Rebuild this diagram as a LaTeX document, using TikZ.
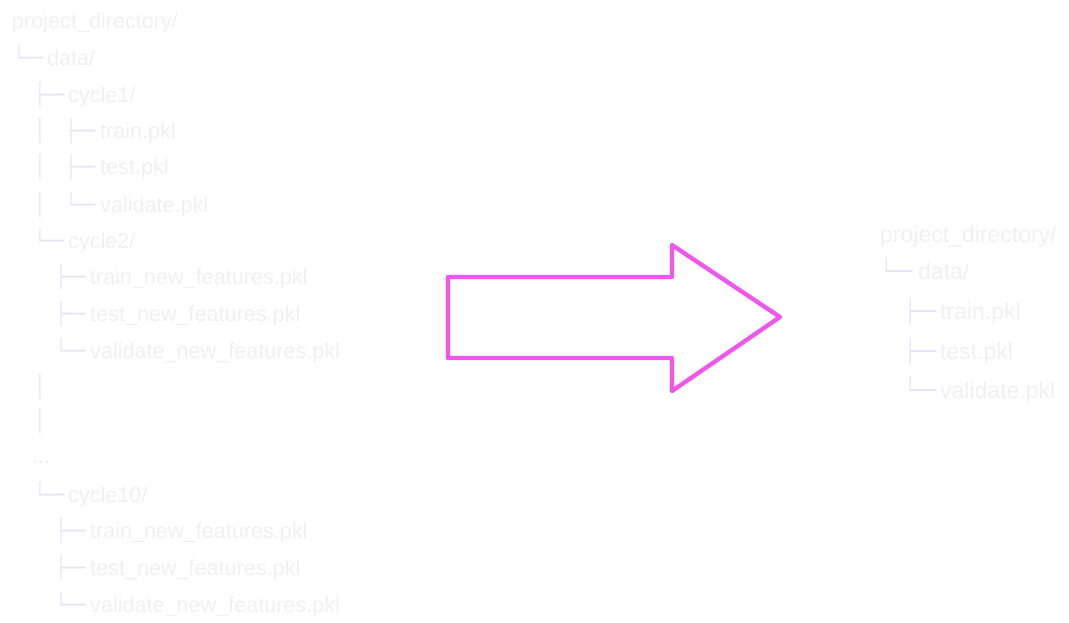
\documentclass[tikz,border=0pt]{standalone}
\usepackage{fontspec}
\setmainfont{Liberation Sans}
\newfontfamily\boxfont[FakeStretch=0.75]{DejaVu Sans}
\definecolor{txtc}{RGB}{240,240,243}
\definecolor{barc}{RGB}{236,224,246}
\definecolor{arrowc}{RGB}{240,85,240}
\tikzset{
  lt/.style={anchor=base west, inner sep=0pt, text=txtc, font=\fontsize{21.6}{24}\selectfont},
  rt/.style={anchor=base west, inner sep=0pt, text=txtc, font=\fontsize{23}{26}\selectfont},
  lb/.style={anchor=base west, inner sep=0pt, xshift=-5pt, text=barc, font=\boxfont\fontsize{21.6}{24}\selectfont},
  rb/.style={anchor=base west, inner sep=0pt, xshift=-5.2pt, text=barc, font=\boxfont\fontsize{23}{26}\selectfont},
  bigarrow/.style={draw=arrowc, line width=4.3pt, line join=round}
}
\begin{document}
\begin{tikzpicture}[x=1pt,y=-1pt]
\useasboundingbox (0,0) rectangle (1069,622);
% ---- left tree ----
\node[lt] (l1) at (12,28) {project\_directory/};
\node[lb] (l2b) at (19,65) {└──};
\node[lt] (l2) at (47,65) {data/};
\node[lb] (l3b) at (40,102) {├──};
\node[lt] (l3) at (68,102) {cycle1/};
\node[lb] (l4a) at (40,138) {│};
\node[lb] (l4b) at (71,138) {├──};
\node[lt] (l4) at (100,138) {train.pkl};
\node[lb] (l5a) at (40,174) {│};
\node[lb] (l5b) at (71,174) {├──};
\node[lt] (l5) at (100,174) {test.pkl};
\node[lb] (l6a) at (40,212) {│};
\node[lb] (l6b) at (71,212) {└──};
\node[lt] (l6) at (100,212) {validate.pkl};
\node[lb] (l7b) at (40,248) {└──};
\node[lt] (l7) at (68,248) {cycle2/};
\node[lb] (l8b) at (61,284) {├──};
\node[lt] (l8) at (90,284) {train\_new\_features.pkl};
\node[lb] (l9b) at (61,321) {├──};
\node[lt] (l9) at (90,321) {test\_new\_features.pkl};
\node[lb] (l10b) at (61,358) {└──};
\node[lt] (l10) at (90,358) {validate\_new\_features.pkl};
\node[lb] (l11a) at (40,394) {│};
\node[lb] (l12a) at (40,428) {│};
\node[lt] (l13) at (32,463) {...};
\node[lb] (l14b) at (40,502) {└──};
\node[lt] (l14) at (68,502) {cycle10/};
\node[lb] (l15b) at (61,538) {├──};
\node[lt] (l15) at (90,538) {train\_new\_features.pkl};
\node[lb] (l16b) at (61,575) {├──};
\node[lt] (l16) at (90,575) {test\_new\_features.pkl};
\node[lb] (l17b) at (61,612) {└──};
\node[lt] (l17) at (90,612) {validate\_new\_features.pkl};
% ---- arrow ----
\draw[bigarrow] (448,277) -- (672,277) -- (672,245) -- (780,317)
  -- (672,391) -- (672,358) -- (448,358) -- cycle;
% ---- right tree ----
\node[rt] (r1) at (880,242.5) {project\_directory/};
\node[rb] (r2b) at (886,279.5) {└──};
\node[rt] (r2) at (918,279.5) {data/};
\node[rb] (r3b) at (910,319.5) {├──};
\node[rt] (r3) at (940,319.5) {train.pkl};
\node[rb] (r4b) at (910,359.5) {├──};
\node[rt] (r4) at (940,359.5) {test.pkl};
\node[rb] (r5b) at (910,398.5) {└──};
\node[rt] (r5) at (940,398.5) {validate.pkl};
\end{tikzpicture}
\end{document}
